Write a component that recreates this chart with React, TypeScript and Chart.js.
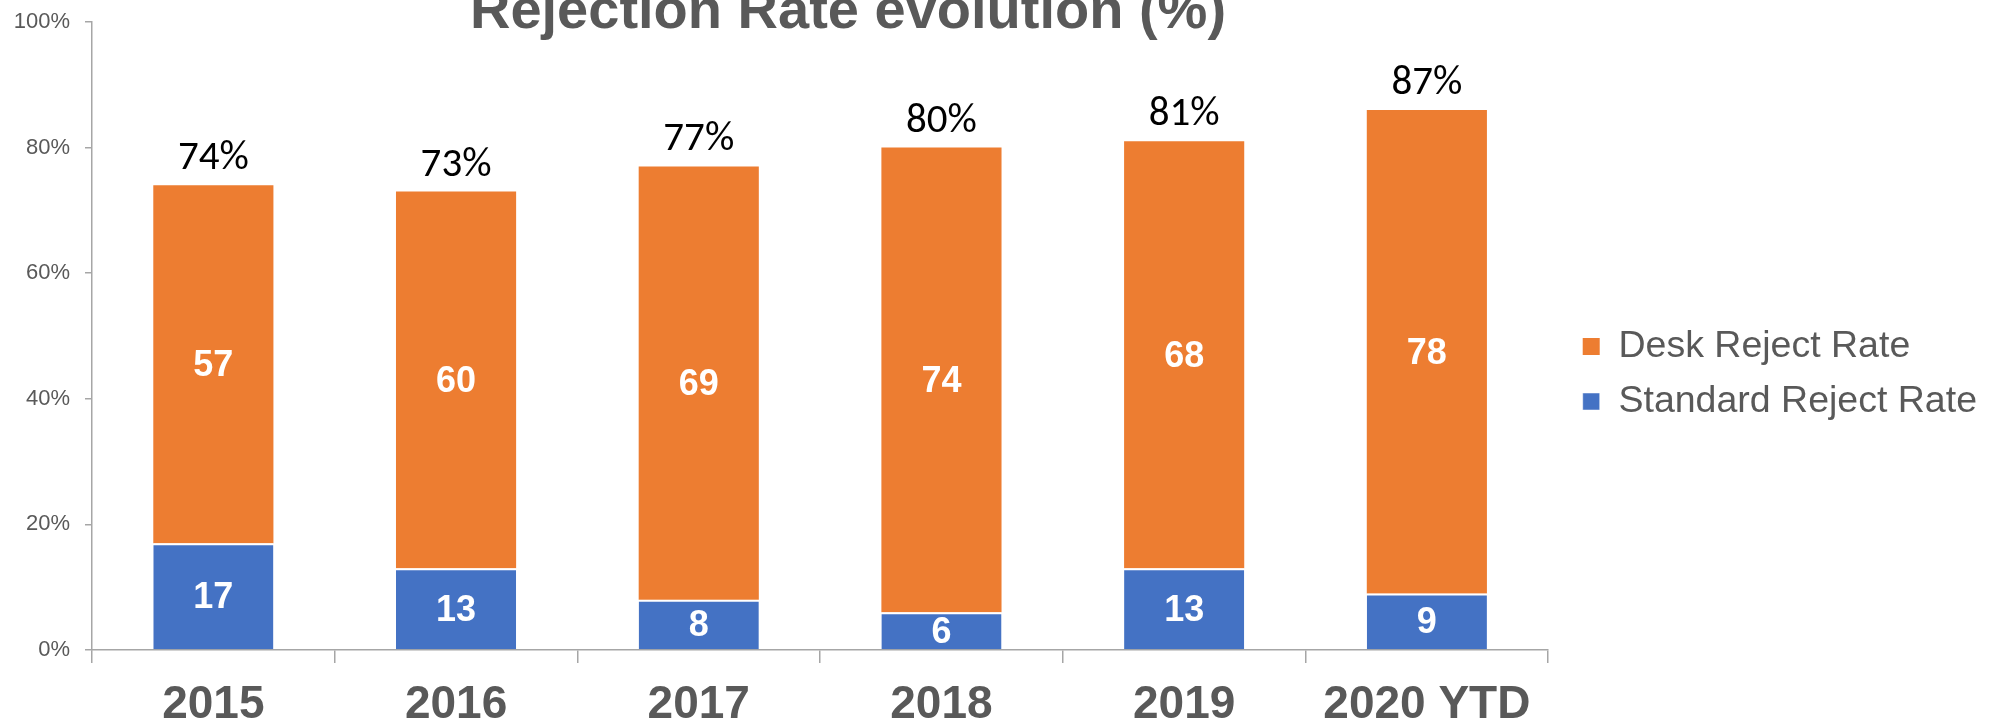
import React, { useEffect, useRef } from 'react';
import { Chart, registerables } from 'chart.js';

Chart.register(...registerables);

const TITLE = 'Rejection Rate evolution (%)';
const categories = ['2015', '2016', '2017', '2018', '2019', '2020 YTD'];
const standardReject = [17, 13, 8, 6, 13, 9];
const deskReject = [57, 60, 69, 74, 68, 77];
const standardLabels = ['17', '13', '8', '6', '13', '9'];
const deskLabels = ['57', '60', '69', '74', '68', '78'];
const totalLabels = ['74%', '73%', '77%', '80%', '81%', '87%'];
const yTicks = [0, 20, 40, 60, 80, 100];

const GREY_TEXT = '#595959';
const AXIS_GREY = '#a6a6a6';
const SANS = '"Liberation Sans", Arial, sans-serif';

const titlePlugin = {
  id: 'customTitle',
  afterDraw(chart: any) {
    const ctx = chart.ctx;
    ctx.save();
    ctx.font = `bold 56px ${SANS}`;
    ctx.fillStyle = GREY_TEXT;
    ctx.textAlign = 'center';
    ctx.textBaseline = 'alphabetic';
    ctx.fillText(TITLE, 848, 28);
    ctx.restore();
  },
};

const legendShift = {
  id: 'legendShift',
  afterLayout(chart: any) {
    const l = chart.legend;
    if (l) {
      l.left += 17;
      l.right += 17;
    }
  },
};

const labelPlugin = {
  id: 'barLabels',
  afterDatasetsDraw(chart: any) {
    const ctx = chart.ctx;
    ctx.save();
    const segTexts = [standardLabels, deskLabels];
    ctx.font = `bold 36px ${SANS}`;
    ctx.fillStyle = '#ffffff';
    ctx.textAlign = 'center';
    ctx.textBaseline = 'middle';
    chart.data.datasets.forEach((_ds: any, di: number) => {
      const meta = chart.getDatasetMeta(di);
      meta.data.forEach((bar: any, i: number) => {
        const { x, y, base } = bar.getProps(['x', 'y', 'base'], true);
        ctx.fillText(segTexts[di][i], x, (y + base) / 2 + 2);
      });
    });
    const topMeta = chart.getDatasetMeta(1);
    ctx.font = '41px Carlito, Lato, sans-serif';
    ctx.fillStyle = '#000000';
    ctx.textBaseline = 'alphabetic';
    topMeta.data.forEach((bar: any, i: number) => {
      const { x, y } = bar.getProps(['x', 'y'], true);
      ctx.fillText(totalLabels[i], x, y - 16);
    });
    ctx.restore();
  },
};

export default function App() {
  const ref = useRef<HTMLCanvasElement | null>(null);

  useEffect(() => {
    document.body.style.margin = '0';
    if (!ref.current) return;
    const chart = new Chart(ref.current, {
      type: 'bar',
      data: {
        labels: categories,
        datasets: [
          {
            label: 'Standard Reject Rate',
            data: standardReject,
            backgroundColor: '#4472C4',
            borderColor: '#ffffff',
            borderWidth: { top: 2, left: 0, right: 0, bottom: 0 },
            borderSkipped: false,
            categoryPercentage: 1,
            barPercentage: 0.495,
          },
          {
            label: 'Desk Reject Rate',
            data: deskReject,
            backgroundColor: '#ED7D31',
            borderWidth: 0,
            categoryPercentage: 1,
            barPercentage: 0.495,
          },
        ],
      },
      options: {
        animation: false,
        responsive: false,
        devicePixelRatio: 1,
        layout: { padding: { top: 22, right: 23, bottom: 0, left: 0 } },
        plugins: {
          title: { display: false },
          tooltip: { enabled: false },
          legend: {
            position: 'right',
            reverse: true,
            labels: {
              boxWidth: 17,
              boxHeight: 17,
              padding: 17.5,
              color: GREY_TEXT,
              font: { family: SANS, size: 37.5 },
            },
          },
        },
        scales: {
          x: {
            stacked: true,
            grid: {
              offset: true,
              drawOnChartArea: false,
              tickLength: 13,
              color: AXIS_GREY,
              lineWidth: 1.5,
            },
            border: { color: AXIS_GREY, width: 1.5 },
            ticks: {
              color: GREY_TEXT,
              padding: 15,
              font: { family: SANS, size: 46, weight: 'bold' },
              maxRotation: 0,
              autoSkip: false,
            },
            afterFit(scale: any) {
              scale.height = 76;
            },
          },
          y: {
            stacked: true,
            min: 0,
            max: 100,
            afterBuildTicks(scale: any) {
              scale.ticks = yTicks.map((v) => ({ value: v }));
            },
            grid: {
              drawOnChartArea: false,
              tickLength: 7,
              color: AXIS_GREY,
              lineWidth: 1.5,
            },
            border: { color: AXIS_GREY, width: 1.5 },
            ticks: {
              color: GREY_TEXT,
              padding: 15,
              font: { family: SANS, size: 22 },
              callback: (v: any) => `${v}%`,
            },
            afterFit(scale: any) {
              scale.width = 92;
              scale.paddingTop = 0;
              scale.paddingBottom = 0;
            },
          },
        },
      },
      plugins: [titlePlugin, legendShift, labelPlugin],
    } as any);
    return () => chart.destroy();
  }, []);

  return (
    <div style={{ width: 1993, height: 726 }}>
      <canvas ref={ref} width={1993} height={726} style={{ display: 'block' }} />
    </div>
  );
}
